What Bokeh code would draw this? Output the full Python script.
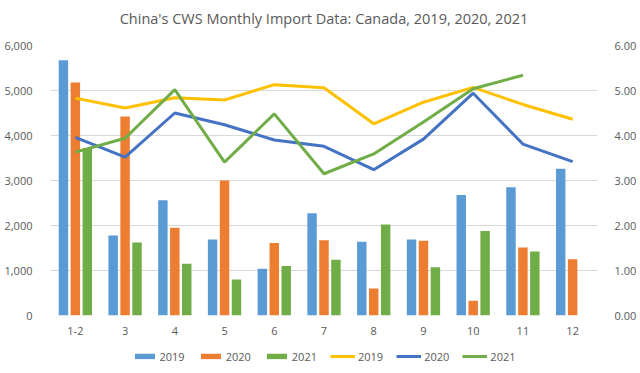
from bokeh.plotting import figure
from bokeh.layouts import column
from bokeh.models import (FactorRange, Range1d, LinearAxis, SingleIntervalTicker,
                          NumeralTickFormatter, Legend, LegendItem, ColumnDataSource)
from bokeh.core.properties import value
from bokeh.transform import dodge
from bokeh.embed import file_html
from bokeh.resources import INLINE

NaN = float("nan")

title_text = "China's CWS Monthly Import Data: Canada, 2019, 2020, 2021"

months = ["1-2", "3", "4", "5", "6", "7", "8", "9", "10", "11", "12"]

# Bars: import volume (left axis)
bar_2019 = [5670, 1780, 2560, 1690, 1040, 2270, 1640, 1690, 2680, 2850, 3260]
bar_2020 = [5180, 4420, 1950, 3000, 1610, 1670, 600, 1660, 330, 1510, 1250]
bar_2021 = [3720, 1620, 1150, 800, 1100, 1240, 2020, 1070, 1880, 1420, NaN]

# Lines: price (right axis)
line_2019 = [4.83, 4.61, 4.84, 4.79, 5.13, 5.06, 4.26, 4.74, 5.07, 4.69, 4.36]
line_2020 = [3.96, 3.52, 4.50, 4.24, 3.90, 3.76, 3.24, 3.92, 4.94, 3.81, 3.42]
line_2021 = [3.63, 3.94, 5.02, 3.41, 4.48, 3.15, 3.59, 4.30, 5.04, 5.34, NaN]

series_labels = ["2019", "2020", "2021"]
bar_colors = ["#5B9BD5", "#ED7D31", "#70AD47"]
line_colors = ["#FFC000", "#4472C4", "#70AD47"]

src = ColumnDataSource(dict(m=months, b19=bar_2019, b20=bar_2020, b21=bar_2021,
                            l19=line_2019, l20=line_2020, l21=line_2021))

TXT = "#595959"
GRID = "#D9D9D9"
FONT = "Open Sans"

def strip(height):
    f = figure(width=640, height=height, output_backend="svg", toolbar_location=None,
               x_range=Range1d(0, 1), y_range=Range1d(0, 1), min_border=0)
    f.axis.visible = False
    f.grid.visible = False
    f.outline_line_color = None
    return f

# Title strip
tt = strip(30)
tt.text(x=[0.5], y=[0.4], text=[title_text], text_align="center", text_baseline="middle",
        text_font=value(FONT), text_font_size="14.5px", text_color=TXT)

# Main chart
p = figure(x_range=FactorRange(*months), y_range=Range1d(0, 6000),
           width=640, height=315, output_backend="svg", toolbar_location=None,
           min_border_left=50, min_border_right=43, min_border_top=15, min_border_bottom=30)
p.extra_y_ranges = {"right": Range1d(0, 6)}

p.outline_line_color = None
p.xgrid.grid_line_color = None
p.ygrid.grid_line_color = GRID
p.ygrid.ticker = SingleIntervalTicker(interval=1000)

w = 0.19
off = 0.24
bar_cols = ["b19", "b20", "b21"]
for col, dx, c in zip(bar_cols, [-off, 0, off], bar_colors):
    p.vbar(x=dodge("m", dx, range=p.x_range), top=col, width=w, source=src,
           fill_color=c, line_color=None)

line_cols = ["l19", "l20", "l21"]
for col, c in zip(line_cols, line_colors):
    p.line(x="m", y=col, source=src, y_range_name="right", line_color=c, line_width=3)

def style_axis(ax):
    ax.axis_line_color = None
    ax.major_tick_line_color = None
    ax.minor_tick_line_color = None
    ax.major_label_text_color = TXT
    ax.major_label_text_font = FONT
    ax.major_label_text_font_size = "11px"

yl = p.yaxis[0]
yl.ticker = SingleIntervalTicker(interval=1000)
yl.formatter = NumeralTickFormatter(format="0,0")
yl.major_label_standoff = 12
style_axis(yl)

yr = LinearAxis(y_range_name="right", ticker=SingleIntervalTicker(interval=1),
                formatter=NumeralTickFormatter(format="0.00"))
yr.major_label_standoff = 11
style_axis(yr)
p.add_layout(yr, "right")

xa = p.xaxis[0]
style_axis(xa)
xa.major_label_standoff = 5

# Legend strip (separate figure so it is not clipped by the plot frame).
# Proxy renderers hold one point placed outside the visible range.
lg = strip(22)
items = []
for lab, c in zip(series_labels, bar_colors):
    r = lg.vbar(x=[-10], top=[-10], bottom=[-11], width=0.1, fill_color=c, line_color=None)
    items.append(LegendItem(label=lab, renderers=[r]))
for lab, c in zip(series_labels, line_colors):
    r = lg.line(x=[-10, -11], y=[-10, -11], line_color=c, line_width=3)
    items.append(LegendItem(label=lab, renderers=[r]))

legend = Legend(items=items, orientation="horizontal", location="center",
                label_text_font=FONT, label_text_font_size="11px", label_text_color=TXT,
                glyph_width=25, glyph_height=7, spacing=13, label_standoff=3,
                border_line_alpha=0, background_fill_alpha=0, padding=0, margin=0)
lg.add_layout(legend, "center")

layout = column(tt, p, lg, spacing=0)
open("out.html", "w").write(file_html(layout, INLINE))
